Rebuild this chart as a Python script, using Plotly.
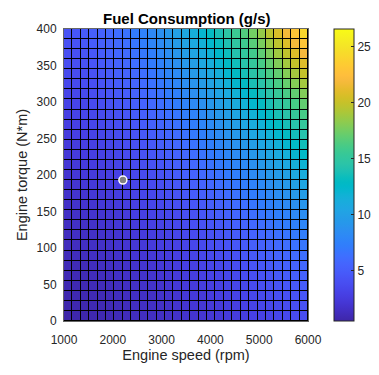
import numpy as np
import plotly.graph_objects as go

# Grid edges (engine speed in rpm, engine torque in N*m)
speed_rpm = [1000, 1172.4, 1344.8, 1517.2, 1689.7, 1862.1, 2034.5, 2206.9, 2379.3, 2551.7,
             2724.1, 2896.6, 3069.0, 3241.4, 3413.8, 3586.2, 3758.6, 3931.0, 4103.4, 4275.9,
             4448.3, 4620.7, 4793.1, 4965.5, 5137.9, 5310.3, 5482.8, 5655.2, 5827.6, 6000]
torque_nm = [0, 13.79, 27.59, 41.38, 55.17, 68.97, 82.76, 96.55, 110.34, 124.14,
             137.93, 151.72, 165.52, 179.31, 193.10, 206.90, 220.69, 234.48, 248.28, 262.07,
             275.86, 289.66, 303.45, 317.24, 331.03, 344.83, 358.62, 372.41, 386.21, 400]

# Fuel consumption (g/s) per cell, one list per speed column (bottom -> top torque)
fuel_by_speed = [
    [0.5,0.6,0.7,0.8,0.9,1.0,1.1,1.2,1.3,1.4,1.5,1.6,1.8,1.9,2.0,2.2,2.3,2.5,2.6,2.8,2.9,3.1,3.2,3.4,3.6,3.8,3.9,4.1,4.3],
    [0.6,0.7,0.8,0.8,0.9,1.0,1.2,1.3,1.4,1.5,1.6,1.8,1.9,2.0,2.2,2.3,2.5,2.6,2.8,2.9,3.1,3.2,3.4,3.6,3.8,4.0,4.1,4.3,4.5],
    [0.6,0.7,0.8,0.9,1.0,1.1,1.3,1.4,1.5,1.6,1.7,1.9,2.0,2.2,2.3,2.5,2.6,2.8,2.9,3.1,3.3,3.4,3.6,3.8,4.0,4.2,4.4,4.6,4.8],
    [0.7,0.8,0.9,1.0,1.1,1.2,1.4,1.5,1.6,1.7,1.9,2.0,2.2,2.3,2.5,2.6,2.8,2.9,3.1,3.3,3.5,3.7,3.8,4.0,4.2,4.4,4.6,4.9,5.1],
    [0.8,0.9,1.0,1.1,1.2,1.4,1.5,1.6,1.7,1.9,2.0,2.2,2.3,2.5,2.6,2.8,3.0,3.1,3.3,3.5,3.7,3.9,4.1,4.3,4.5,4.7,4.9,5.2,5.4],
    [0.9,1.0,1.1,1.2,1.3,1.5,1.6,1.7,1.9,2.0,2.2,2.3,2.5,2.7,2.8,3.0,3.2,3.4,3.6,3.8,4.0,4.2,4.4,4.6,4.8,5.0,5.3,5.5,5.8],
    [1.0,1.1,1.2,1.3,1.5,1.6,1.7,1.9,2.0,2.2,2.3,2.5,2.7,2.8,3.0,3.2,3.4,3.6,3.8,4.0,4.2,4.5,4.7,4.9,5.2,5.4,5.7,5.9,6.2],
    [1.1,1.2,1.3,1.4,1.6,1.7,1.9,2.0,2.2,2.3,2.5,2.7,2.9,3.0,3.2,3.4,3.7,3.9,4.1,4.3,4.5,4.8,5.0,5.3,5.5,5.8,6.0,6.3,6.6],
    [1.2,1.3,1.4,1.6,1.7,1.8,2.0,2.2,2.3,2.5,2.7,2.9,3.1,3.3,3.5,3.7,3.9,4.1,4.4,4.6,4.9,5.1,5.4,5.6,5.9,6.2,6.5,6.8,7.1],
    [1.3,1.4,1.5,1.7,1.8,2.0,2.1,2.3,2.5,2.7,2.9,3.1,3.3,3.5,3.7,3.9,4.2,4.4,4.7,4.9,5.2,5.5,5.8,6.0,6.3,6.6,6.9,7.3,7.6],
    [1.4,1.5,1.6,1.8,2.0,2.1,2.3,2.5,2.7,2.9,3.1,3.3,3.5,3.7,4.0,4.2,4.5,4.7,5.0,5.3,5.6,5.9,6.2,6.5,6.8,7.1,7.4,7.8,8.1],
    [1.5,1.6,1.8,1.9,2.1,2.3,2.5,2.7,2.9,3.1,3.3,3.5,3.8,4.0,4.3,4.5,4.8,5.1,5.4,5.7,6.0,6.3,6.6,6.9,7.3,7.6,8.0,8.3,8.7],
    [1.6,1.7,1.9,2.1,2.2,2.4,2.6,2.8,3.1,3.3,3.5,3.8,4.0,4.3,4.5,4.8,5.1,5.4,5.7,6.0,6.4,6.7,7.1,7.4,7.8,8.2,8.5,8.9,9.3],
    [1.7,1.9,2.0,2.2,2.4,2.6,2.8,3.0,3.3,3.5,3.7,4.0,4.3,4.6,4.9,5.2,5.5,5.8,6.1,6.5,6.8,7.2,7.5,7.9,8.3,8.7,9.1,9.6,10.0],
    [1.8,2.0,2.2,2.4,2.6,2.8,3.0,3.2,3.5,3.7,4.0,4.3,4.6,4.9,5.2,5.5,5.8,6.2,6.5,6.9,7.3,7.7,8.1,8.5,8.9,9.3,9.8,10.2,10.7],
    [1.9,2.1,2.3,2.5,2.7,2.9,3.2,3.4,3.7,4.0,4.2,4.5,4.9,5.2,5.5,5.8,6.2,6.6,7.0,7.3,7.7,8.2,8.6,9.0,9.5,9.9,10.4,10.9,11.4],
    [2.1,2.2,2.4,2.7,2.9,3.1,3.4,3.6,3.9,4.2,4.5,4.8,5.2,5.5,5.9,6.2,6.6,7.0,7.4,7.8,8.2,8.7,9.2,9.6,10.1,10.6,11.1,11.6,12.2],
    [2.2,2.4,2.6,2.8,3.1,3.3,3.6,3.9,4.2,4.5,4.8,5.1,5.5,5.8,6.2,6.6,7.0,7.4,7.9,8.3,8.8,9.2,9.7,10.2,10.8,11.3,11.8,12.4,13.0],
    [2.3,2.5,2.8,3.0,3.2,3.5,3.8,4.1,4.4,4.7,5.1,5.4,5.8,6.2,6.6,7.0,7.4,7.9,8.4,8.8,9.3,9.8,10.4,10.9,11.4,12.0,12.6,13.2,13.8],
    [2.5,2.7,2.9,3.2,3.4,3.7,4.0,4.3,4.7,5.0,5.4,5.7,6.1,6.6,7.0,7.4,7.9,8.4,8.9,9.4,9.9,10.4,11.0,11.6,12.2,12.8,13.4,14.0,14.7],
    [2.6,2.8,3.1,3.3,3.6,3.9,4.2,4.6,4.9,5.3,5.7,6.1,6.5,6.9,7.4,7.9,8.4,8.9,9.4,9.9,10.5,11.1,11.7,12.3,12.9,13.5,14.2,14.9,15.6],
    [2.7,3.0,3.2,3.5,3.8,4.1,4.5,4.8,5.2,5.6,6.0,6.4,6.9,7.3,7.8,8.3,8.8,9.4,9.9,10.5,11.1,11.7,12.3,13.0,13.7,14.4,15.1,15.8,16.5],
    [2.9,3.1,3.4,3.7,4.0,4.4,4.7,5.1,5.5,5.9,6.3,6.8,7.2,7.7,8.3,8.8,9.3,9.9,10.5,11.1,11.7,12.4,13.1,13.8,14.5,15.2,15.9,16.7,17.5],
    [3.0,3.3,3.6,3.9,4.2,4.6,5.0,5.3,5.8,6.2,6.7,7.1,7.6,8.2,8.7,9.3,9.9,10.5,11.1,11.7,12.4,13.1,13.8,14.5,15.3,16.1,16.9,17.7,18.5],
    [3.2,3.5,3.8,4.1,4.4,4.8,5.2,5.6,6.1,6.5,7.0,7.5,8.0,8.6,9.2,9.8,10.4,11.0,11.7,12.4,13.1,13.8,14.6,15.4,16.2,17.0,17.8,18.7,19.6],
    [3.3,3.6,4.0,4.3,4.7,5.1,5.5,5.9,6.4,6.9,7.4,7.9,8.5,9.0,9.6,10.3,10.9,11.6,12.3,13.0,13.8,14.6,15.4,16.2,17.0,17.9,18.8,19.7,20.7],
    [3.5,3.8,4.1,4.5,4.9,5.3,5.7,6.2,6.7,7.2,7.7,8.3,8.9,9.5,10.1,10.8,11.5,12.2,13.0,13.7,14.5,15.3,16.2,17.1,18.0,18.9,19.8,20.8,21.8],
    [3.7,4.0,4.3,4.7,5.1,5.5,6.0,6.5,7.0,7.5,8.1,8.7,9.3,10.0,10.7,11.4,12.1,12.8,13.6,14.4,15.3,16.1,17.0,18.0,18.9,19.9,20.9,21.9,23.0],
    [3.8,4.2,4.5,4.9,5.4,5.8,6.3,6.8,7.3,7.9,8.5,9.1,9.8,10.5,11.2,11.9,12.7,13.5,14.3,15.2,16.1,17.0,17.9,18.9,19.9,20.9,22.0,23.0,24.2],
]
fuel_min = 0.5
fuel_max = 26.6

# Operating point
op_speed = [2206.9]
op_torque = [193.1]

x_ticks = [1000, 2000, 3000, 4000, 5000, 6000]
y_ticks = [0, 50, 100, 150, 200, 250, 300, 350, 400]
cbar_ticks = [5, 10, 15, 20, 25]

parula_rgb = [
    (0.2422,0.1504,0.6603),(0.2504,0.1650,0.7076),(0.2578,0.1818,0.7511),(0.2647,0.1978,0.7952),
    (0.2706,0.2147,0.8364),(0.2751,0.2342,0.8710),(0.2783,0.2559,0.8991),(0.2803,0.2782,0.9221),
    (0.2813,0.3006,0.9414),(0.2810,0.3228,0.9579),(0.2795,0.3447,0.9717),(0.2760,0.3667,0.9829),
    (0.2699,0.3892,0.9906),(0.2602,0.4123,0.9952),(0.2440,0.4358,0.9988),(0.2206,0.4603,0.9973),
    (0.1963,0.4847,0.9892),(0.1834,0.5074,0.9798),(0.1786,0.5289,0.9682),(0.1764,0.5499,0.9520),
    (0.1687,0.5703,0.9359),(0.1540,0.5902,0.9218),(0.1460,0.6091,0.9079),(0.1380,0.6276,0.8973),
    (0.1248,0.6459,0.8883),(0.1113,0.6635,0.8763),(0.0952,0.6798,0.8598),(0.0689,0.6948,0.8394),
    (0.0297,0.7082,0.8163),(0.0036,0.7203,0.7917),(0.0067,0.7312,0.7660),(0.0433,0.7411,0.7394),
    (0.0964,0.7500,0.7120),(0.1408,0.7584,0.6842),(0.1717,0.7670,0.6554),(0.1938,0.7758,0.6251),
    (0.2161,0.7843,0.5923),(0.2470,0.7918,0.5567),(0.2906,0.7973,0.5188),(0.3406,0.8008,0.4789),
    (0.3909,0.8029,0.4354),(0.4456,0.8024,0.3909),(0.5044,0.7993,0.3480),(0.5616,0.7942,0.3045),
    (0.6174,0.7876,0.2612),(0.6720,0.7793,0.2227),(0.7242,0.7698,0.1910),(0.7738,0.7598,0.1646),
    (0.8203,0.7498,0.1535),(0.8634,0.7406,0.1596),(0.9035,0.7330,0.1774),(0.9393,0.7288,0.2100),
    (0.9728,0.7298,0.2394),(0.9956,0.7434,0.2371),(0.9970,0.7659,0.2199),(0.9952,0.7893,0.2028),
    (0.9892,0.8136,0.1885),(0.9786,0.8386,0.1766),(0.9676,0.8639,0.1643),(0.9610,0.8890,0.1537),
    (0.9597,0.9135,0.1423),(0.9628,0.9373,0.1265),(0.9691,0.9606,0.1064),(0.9769,0.9839,0.0805),
]
n = len(parula_rgb)
parula = [[k / (n - 1), "rgb(%d,%d,%d)" % tuple(round(c * 255) for c in rgb)]
          for k, rgb in enumerate(parula_rgb)]

z = np.array(fuel_by_speed).T

FONT = "Liberation Sans, Arial, Helvetica, sans-serif"
TXT = "#262626"

# The page body adds an 8 px offset; figure coordinates below are screen - 8.
OFF = 8
W, H = 379 - OFF, 375 - OFF
L, R, T, B = 64 - OFF, 308 - OFF, 29 - OFF, 321 - OFF
CB_LEFT = 334 - OFF

fig = go.Figure()
fig.add_trace(go.Heatmap(
    x=speed_rpm, y=torque_nm, z=z,
    zmin=fuel_min, zmax=fuel_max, colorscale=parula,
    xgap=1, ygap=1,
    colorbar=dict(
        x=(CB_LEFT - L) / (R - L), xref="paper", xanchor="left", thickness=20,
        xpad=0, ypad=0,
        len=1.0, y=0.5, yanchor="middle",
        outlinecolor=TXT, outlinewidth=1,
        tickvals=cbar_ticks, ticks="inside", ticklen=3, tickcolor=TXT,
        tickfont=dict(family=FONT, size=12, color=TXT),
    ),
    showscale=True,
))
fig.add_trace(go.Scatter(
    x=op_speed, y=op_torque, mode="markers",
    marker=dict(size=8, color="#808080", line=dict(color="white", width=1.5)),
    showlegend=False,
))

fig.update_layout(
    width=W, height=H,
    margin=dict(l=L, r=W - R, t=T, b=H - B, autoexpand=False),
    paper_bgcolor="white", plot_bgcolor="black",
    font=dict(family=FONT, color=TXT),
    showlegend=False,
    annotations=[dict(
        text="<b>Fuel Consumption (g/s)</b>", x=0.5, y=1, xref="paper", yref="paper",
        xanchor="center", yanchor="bottom", yshift=0, showarrow=False,
        font=dict(family=FONT, size=15, color="black"),
    )],
)
fig.update_xaxes(
    range=[1000, 6000], tickvals=x_ticks, ticks="", showgrid=False, zeroline=False,
    showline=True, linecolor="#666666", linewidth=1, mirror=True, automargin=False,
    ticklabelstandoff=8,
    tickfont=dict(family=FONT, size=12, color=TXT),
    title=dict(text="Engine speed (rpm)", font=dict(family=FONT, size=14.5, color=TXT), standoff=3),
)
fig.update_yaxes(
    range=[0, 400], tickvals=y_ticks, ticks="", showgrid=False, zeroline=False,
    showline=True, linecolor="#666666", linewidth=1, mirror=True, automargin=False,
    ticklabelstandoff=4,
    tickfont=dict(family=FONT, size=12, color=TXT),
    title=dict(text="Engine torque (N*m)", font=dict(family=FONT, size=14.5, color=TXT), standoff=5),
)

fig.write_html("out.html")
